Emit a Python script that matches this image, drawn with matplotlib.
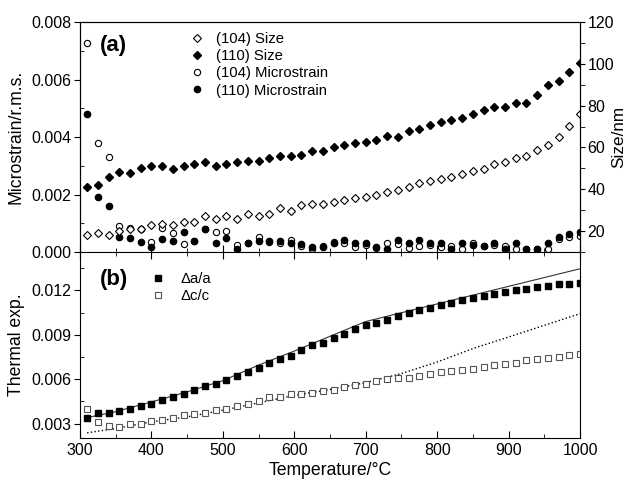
import numpy as np
import matplotlib
matplotlib.use("Agg")
import matplotlib.pyplot as plt
from matplotlib.ticker import MultipleLocator, FormatStrFormatter

plt.rcParams['font.family'] = ['Liberation Sans', 'DejaVu Sans']

# temperature grid (°C)
temps = np.arange(310, 1001, 15)

# (a) crystallite size, nm (right axis)
size_104 = [17.9, 19.1, 17.9, 20.1, 21.0, 21.0, 23.1, 23.4, 23.1, 24.2, 24.2, 27.1,
            25.9, 27.1, 25.9, 28.3, 27.3, 28.3, 30.9, 29.8, 32.5, 33.1, 33.1, 34.0,
            34.7, 35.8, 36.3, 37.4, 38.9, 39.8, 41.1, 43.0, 44.0, 44.7, 46.0, 47.1,
            48.8, 49.8, 51.9, 52.9, 55.0, 56.0, 58.7, 61.3, 65.0, 70.1, 76.0]
size_110 = [41.0, 42.2, 46.1, 48.2, 48.0, 50.0, 51.2, 51.2, 49.9, 51.2, 52.2, 53.0,
            51.3, 52.2, 53.1, 53.5, 53.7, 55.2, 56.1, 56.0, 56.3, 58.4, 58.1, 60.3,
            61.1, 62.1, 62.4, 63.7, 65.3, 65.0, 68.0, 69.0, 70.9, 72.0, 73.3, 74.2,
            76.0, 77.9, 79.4, 79.2, 81.1, 81.1, 85.1, 89.9, 92.0, 96.0, 100.2]

# (a) microstrain (left axis)
strain_104 = [0.00728, 0.0038, 0.0033, 0.0009, 0.00085, 0.0008, 0.00034, 0.00082,
              0.00065, 0.00028, 0.0004, 0.0008, 0.00071, 0.00074, 0.00024, 0.0003,
              0.00051, 0.00035, 0.0003, 0.00042, 0.0002, 0.0001, 0.0002, 0.00035,
              0.0003, 0.00018, 0.00025, 0.00015, 0.00032, 0.00028, 0.00013, 0.00021,
              0.00025, 0.00018, 0.00021, 0.0001, 0.00032, 0.0002, 0.00025, 0.00021,
              0.0001, 0.0001, 0.0001, 0.0001, 0.00044, 0.00051, 0.00056]
strain_110 = [0.00479, 0.0019, 0.00161, 0.00051, 0.00048, 0.00034, 0.00018, 0.00044,
              0.00039, 0.00068, 0.00039, 0.0008, 0.0003, 0.00048, 0.0001, 0.0003,
              0.00039, 0.00039, 0.00039, 0.0003, 0.00027, 0.00018, 0.00018, 0.0003,
              0.00042, 0.00032, 0.0003, 0.00018, 0.0001, 0.00042, 0.00032, 0.00042,
              0.00032, 0.00032, 0.0001, 0.00032, 0.00024, 0.00021, 0.00032, 0.0001,
              0.00032, 0.0001, 0.0001, 0.00032, 0.00051, 0.00062, 0.00071]

# (b) thermal expansion
da_a = [0.00334, 0.00368, 0.00374, 0.00385, 0.00395, 0.00417, 0.00435, 0.00457,
        0.0048, 0.00503, 0.00525, 0.00552, 0.0057, 0.00593, 0.0062, 0.00649,
        0.00678, 0.00709, 0.00739, 0.00757, 0.00795, 0.00829, 0.00845, 0.00881,
        0.00908, 0.00937, 0.00964, 0.0098, 0.01003, 0.01027, 0.0105, 0.01066,
        0.01084, 0.01099, 0.01118, 0.01133, 0.01149, 0.01162, 0.01178, 0.01189,
        0.01201, 0.0121, 0.01223, 0.01232, 0.01241, 0.01246, 0.01253]
dc_c = [0.00401, 0.00311, 0.00284, 0.00277, 0.00295, 0.003, 0.00318, 0.00322,
        0.00338, 0.00356, 0.00361, 0.00368, 0.0039, 0.00397, 0.00419, 0.00435,
        0.00453, 0.0048, 0.0048, 0.00498, 0.00503, 0.00509, 0.0052, 0.0053,
        0.00547, 0.00559, 0.0057, 0.00586, 0.00604, 0.00611, 0.00611, 0.00622,
        0.00633, 0.00649, 0.00655, 0.0066, 0.00672, 0.00683, 0.00694, 0.00701,
        0.00712, 0.00728, 0.00734, 0.00743, 0.0075, 0.00762, 0.00768]

# fitted curves
fit_a_t = [310, 350, 400, 450, 500, 550, 600, 650, 700, 1000]
fit_a = [0.0034, 0.0038, 0.00446, 0.00514, 0.0059, 0.00695, 0.0079, 0.0089, 0.0099, 0.01347]
fit_c_t = [310, 350, 400, 450, 500, 550, 600, 650, 700, 750, 800, 850, 900, 950, 1000]
fit_c = [0.00237, 0.00266, 0.00311, 0.00345, 0.0039, 0.0044, 0.0049, 0.0053, 0.00577,
         0.00638, 0.00716, 0.00807, 0.00885, 0.00964, 0.01043]

TICK = 11.5
LAB = 12.7

fig = plt.figure(figsize=(6.28, 4.8), dpi=100)
ax1 = fig.add_axes([0.1274, 0.475, 0.7962, 0.479])
ax2 = fig.add_axes([0.1274, 0.0869, 0.7962, 0.388], sharex=ax1)
ax1r = ax1.twinx()

# panel (a)
h1, = ax1r.plot(temps, size_104, 'D', ms=4.3, mfc='white', mec='black', mew=0.8,
                label='(104) Size')
h2, = ax1r.plot(temps, size_110, 'D', ms=4.3, mfc='black', mec='black',
                label='(110) Size')
h3, = ax1.plot(temps, strain_104, 'o', ms=4.5, mfc='white', mec='black', mew=0.8,
               label='(104) Microstrain')
h4, = ax1.plot(temps, strain_110, 'o', ms=4.5, mfc='black', mec='black',
               label='(110) Microstrain')

ax1.set_xlim(300, 1000)
ax1.set_ylim(0, 0.008)
ax1r.set_ylim(10, 120)
ax1.yaxis.set_major_locator(MultipleLocator(0.002))
ax1.yaxis.set_minor_locator(MultipleLocator(0.001))
ax1.yaxis.set_major_formatter(FormatStrFormatter('%.3f'))
ax1r.yaxis.set_major_locator(MultipleLocator(20))
ax1r.yaxis.set_minor_locator(MultipleLocator(10))
ax1.set_ylabel('Microstrain/r.m.s.', fontsize=LAB, labelpad=5)
ax1r.set_ylabel('Size/nm', fontsize=12.3, labelpad=-2)
ax1.tick_params(axis='x', which='both', direction='in', top=False, labelbottom=False)
ax1.tick_params(axis='x', which='major', length=5)
ax1.tick_params(axis='x', which='minor', length=3)
ax1.tick_params(axis='y', which='major', direction='out', length=4, labelsize=TICK, pad=2)
ax1.tick_params(axis='y', which='minor', direction='in', length=3)
ax1r.tick_params(axis='y', which='both', direction='out', labelsize=TICK, length=3.5, pad=2)
ax1.spines['bottom'].set_color('#777777')
ax1.text(0.04, 0.90, '(a)', transform=ax1.transAxes, fontsize=16, fontweight='bold',
         va='center', ha='left')
ax1.legend(handles=[h1, h2, h3, h4], loc='upper left', bbox_to_anchor=(0.2, 1.0),
           frameon=False, fontsize=10.7, handlelength=1.0, handletextpad=0.8,
           labelspacing=0.22, borderaxespad=0.25)

# panel (b)
ax2.plot(fit_a_t, fit_a, '-', color='#333333', lw=0.8)
ax2.plot(fit_c_t, fit_c, ':', color='black', lw=1.0)
g1, = ax2.plot(temps, da_a, 's', ms=4.2, mfc='black', mec='black', label='\u0394a/a')
g2, = ax2.plot(temps, dc_c, 's', ms=4.2, mfc='white', mec='#555555', mew=0.8,
               label='\u0394c/c')
ax2.set_xlim(300, 1000)
ax2.set_ylim(0.002, 0.0146)
ax2.xaxis.set_major_locator(MultipleLocator(100))
ax2.xaxis.set_minor_locator(MultipleLocator(50))
ax2.yaxis.set_major_locator(MultipleLocator(0.003))
ax2.yaxis.set_minor_locator(MultipleLocator(0.0015))
ax2.yaxis.set_major_formatter(FormatStrFormatter('%.3f'))
ax2.tick_params(axis='x', which='both', direction='in', top=True, labelsize=TICK)
ax2.tick_params(axis='x', which='major', length=5)
ax2.tick_params(axis='x', which='minor', length=3)
ax2.tick_params(axis='y', which='major', direction='out', length=4, right=False,
                labelsize=TICK, pad=2)
ax2.tick_params(axis='y', which='minor', direction='in', length=3, right=False)
ax2.spines['top'].set_visible(False)
ax2.set_xlabel('Temperature/\u00b0C', fontsize=LAB, labelpad=3)
ax2.set_ylabel('Thermal exp.', fontsize=LAB, labelpad=5)
ax2.text(0.04, 0.85, '(b)', transform=ax2.transAxes, fontsize=16, fontweight='bold',
         va='center', ha='left')
ax2.legend(handles=[g1, g2], loc='upper left', bbox_to_anchor=(0.12, 0.95),
           frameon=False, fontsize=10.7, handlelength=1.0, handletextpad=1.0,
           labelspacing=0.25, borderaxespad=0.3)

fig.savefig('out.png', dpi=100)
